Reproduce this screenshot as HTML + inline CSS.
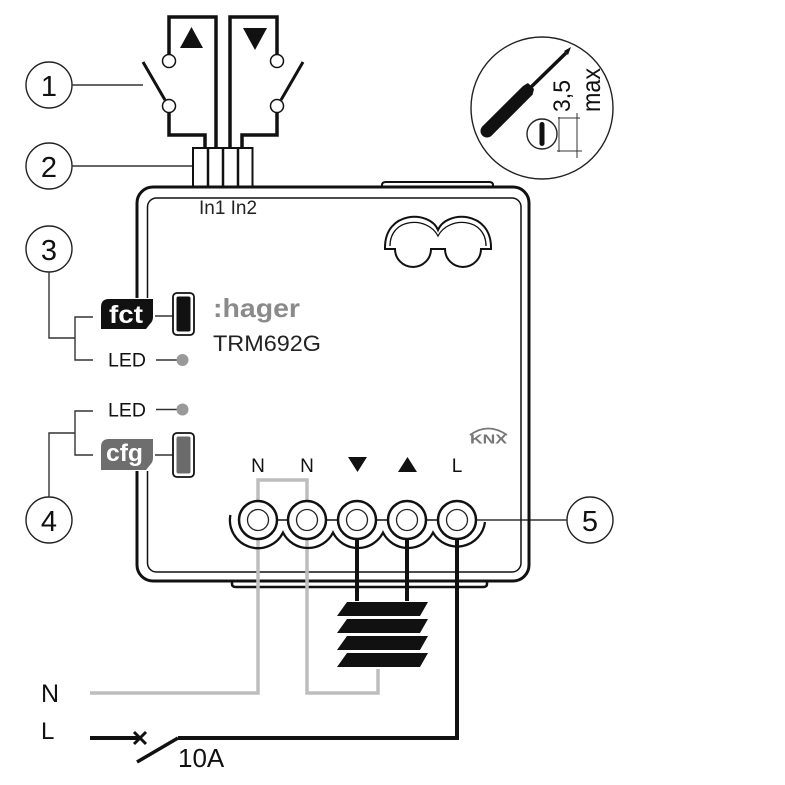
<!DOCTYPE html>
<html><head><meta charset="utf-8"><style>
html,body{margin:0;padding:0;background:#fff;}
svg{display:block;}
text{font-family:"Liberation Sans",Arial,sans-serif;}
</style></head><body>
<svg width="785" height="785" viewBox="0 0 785 785" xmlns="http://www.w3.org/2000/svg">
<rect width="785" height="785" fill="#fff"/>

<!-- number circles -->
<g fill="none" stroke="#222" stroke-width="1.4">
<circle cx="49" cy="85" r="23"/>
<circle cx="49" cy="166" r="23"/>
<circle cx="49" cy="249" r="23"/>
<circle cx="49" cy="520" r="23"/>
<circle cx="590" cy="520" r="23"/>
</g>
<g font-size="29" fill="#111" text-anchor="middle">
<text x="49" y="96">1</text>
<text x="49" y="177">2</text>
<text x="49" y="260">3</text>
<text x="49" y="531">4</text>
<text x="590" y="531">5</text>
</g>

<!-- leader lines -->
<g fill="none" stroke="#333" stroke-width="1.4">
<line x1="72" y1="85" x2="143" y2="85"/>
<line x1="72" y1="166" x2="200" y2="166"/>
<polyline points="49,272 49,338 75,338"/>
<polyline points="93,317 75,317 75,360 93,360"/>
<polyline points="49,497 49,433 75,433"/>
<polyline points="93,411 75,411 75,455 93,455"/>
<line x1="476" y1="520" x2="567" y2="520"/>
</g>

<!-- switches -->
<g fill="none" stroke="#111" stroke-width="3.5" stroke-linejoin="miter">
<polyline points="169,55 169,17 216,17 216,148"/>
<polyline points="169,112 169,135 205,135 205,148"/>
<polyline points="277,55 277,17 230,17 230,148"/>
<polyline points="277,112 277,135 242,135 242,148"/>
</g>
<g stroke="#111" stroke-width="3" stroke-linecap="butt">
<line x1="143" y1="62" x2="165" y2="100"/>
<line x1="303" y1="62" x2="281" y2="100"/>
</g>
<g fill="#fff" stroke="#111" stroke-width="1.5">
<circle cx="169" cy="61" r="6.5"/>
<circle cx="169" cy="106" r="6.5"/>
<circle cx="277" cy="61" r="6.5"/>
<circle cx="277" cy="106" r="6.5"/>
</g>
<polygon points="191.5,27 180,48 203,48" fill="#111"/>
<polygon points="243,28 267,28 255,50" fill="#111"/>

<!-- connector -->
<rect x="193" y="148" width="59.5" height="39" fill="#fff" stroke="#111" stroke-width="2"/>
<g stroke="#111" stroke-width="2.5">
<line x1="208" y1="148" x2="208" y2="187"/>
<line x1="223" y1="148" x2="223" y2="187"/>
<line x1="238" y1="148" x2="238" y2="187"/>
</g>

<!-- screwdriver circle -->
<circle cx="542" cy="108" r="71" fill="none" stroke="#222" stroke-width="1.4"/>
<circle cx="487" cy="131" r="6.5" fill="#111"/>
<polygon points="482.4,126.4 523,86 528,83 534,89 532.6,94.6 491.6,135.6" fill="#111"/>
<line x1="528" y1="90" x2="566" y2="53" stroke="#111" stroke-width="3.5"/>
<polygon points="564,51 571,47 568,55" fill="#111"/>
<circle cx="542" cy="134" r="15" fill="none" stroke="#222" stroke-width="1.4"/>
<rect x="539.5" y="122" width="5" height="24" rx="2.5" fill="#111"/>
<g stroke="#333" stroke-width="1">
<line x1="558" y1="118" x2="580" y2="118"/>
<line x1="557" y1="151" x2="582" y2="151"/>
<line x1="559" y1="117" x2="559" y2="152"/>
<line x1="577" y1="113" x2="577" y2="158"/>
</g>
<text transform="translate(570,112) rotate(-90)" font-size="24" fill="#111" textLength="32" lengthAdjust="spacingAndGlyphs">3,5</text>
<text transform="translate(600,112) rotate(-90)" font-size="26" fill="#111" textLength="44" lengthAdjust="spacingAndGlyphs">max</text>

<!-- box -->
<path d="M382,187 L382,185 Q382,182 386,182 L489,182 Q493,182 493,185 L493,187" fill="none" stroke="#111" stroke-width="2"/>
<path d="M137,298 L137,203 A16,16 0 0 1 153,187 L513,187 A16,16 0 0 1 529,203 L529,565 A16,16 0 0 1 513,581 L153,581 A16,16 0 0 1 137,565 L137,471" fill="none" stroke="#111" stroke-width="3"/>
<path d="M147.5,298 L147.5,207 A9,9 0 0 1 156.5,198 L512,198 A9,9 0 0 1 521,207 L521,563 A9,9 0 0 1 512,572 L156.5,572 A9,9 0 0 1 147.5,563 L147.5,471" fill="none" stroke="#111" stroke-width="1.5"/>
<path d="M232,581 L232,584 Q232,587 236,587 L483,587 Q487,587 487,584 L487,581" fill="none" stroke="#111" stroke-width="2.5"/>

<!-- knob shape -->
<path d="M385,249 C384,210 430,210 438,230 C446,210 492,210 491,249 L481,249 A18,18 0 0 1 445,249 L431,249 A18,18 0 0 1 395,249 Z" fill="none" stroke="#111" stroke-width="2"/>
<path d="M390,246 C390,217 428,216 438,236 C448,216 486,217 486,246" fill="none" stroke="#111" stroke-width="1.3"/>

<!-- In1 In2 -->
<text x="199" y="214" font-size="19" fill="#222" textLength="58" lengthAdjust="spacingAndGlyphs">In1 In2</text>

<!-- hager -->
<text x="213" y="317" font-size="26" font-weight="bold" fill="#8a8a8a" textLength="87" lengthAdjust="spacingAndGlyphs">:hager</text>
<text x="213" y="351" font-size="22" fill="#222" textLength="108" lengthAdjust="spacingAndGlyphs">TRM692G</text>

<!-- fct -->
<path d="M101,329 L101,307 Q101,299 109,299 L153,299 L153,317 Q153,321 150,324 L146,329 Z" fill="#111"/>
<text x="109" y="323" font-size="25" font-weight="bold" fill="#fff" textLength="34" lengthAdjust="spacingAndGlyphs">fct</text>
<line x1="155" y1="316" x2="182" y2="316" stroke="#333" stroke-width="1.4"/>
<rect x="173" y="293" width="21" height="42" rx="4" fill="#fff" stroke="#111" stroke-width="1.8"/>
<rect x="176.5" y="296.5" width="14" height="35" rx="2" fill="#111"/>

<!-- LEDs -->
<text x="108" y="366.5" font-size="19.5" fill="#111">LED</text>
<line x1="156" y1="360" x2="177" y2="360" stroke="#333" stroke-width="1.4"/>
<circle cx="182.5" cy="360" r="6" fill="#999"/>
<text x="108" y="416.5" font-size="19.5" fill="#111">LED</text>
<line x1="156" y1="409.5" x2="177" y2="409.5" stroke="#333" stroke-width="1.4"/>
<circle cx="182.5" cy="409.5" r="6" fill="#999"/>

<!-- cfg -->
<path d="M101,470 L101,447 Q101,439 109,439 L153,439 L153,458 Q153,462 150,465 L146,470 Z" fill="#6e6e6e"/>
<text x="106" y="461" font-size="24" font-weight="bold" fill="#fff" textLength="37" lengthAdjust="spacingAndGlyphs">cfg</text>
<line x1="155" y1="455" x2="182" y2="455" stroke="#333" stroke-width="1.4"/>
<rect x="173" y="433" width="21" height="44" rx="4" fill="#fff" stroke="#111" stroke-width="1.8"/>
<rect x="176.5" y="436.5" width="14" height="37" rx="2" fill="#6b6b6b"/>

<!-- KNX -->
<path d="M470,435 Q488,422 507,435" fill="none" stroke="#777" stroke-width="1.8"/>
<text x="470" y="443.5" font-size="12.5" font-weight="bold" fill="#777" textLength="37" lengthAdjust="spacingAndGlyphs">KNX</text>

<!-- terminal labels -->
<g font-size="19" fill="#111" text-anchor="middle">
<text x="258" y="472">N</text>
<text x="307" y="472">N</text>
<text x="457" y="472">L</text>
</g>
<polygon points="348,457 367,457 357.5,472" fill="#111"/>
<polygon points="407.5,457 398,472 417,472" fill="#111"/>

<!-- wires -->
<g fill="none" stroke="#bdbdbd" stroke-width="3.5">
<polyline points="258,500 258,480 307,480 307,500"/>
<polyline points="258,540 258,693 90,693"/>
<polyline points="307,540 307,693 378,693 378,669"/>
</g>
<g fill="none" stroke="#111" stroke-width="4">
<line x1="357" y1="540" x2="357" y2="601"/>
<line x1="407" y1="540" x2="407" y2="601"/>
<polyline points="457,540 457,738 178,738"/>
<line x1="90" y1="738" x2="140" y2="738"/>
</g>
<line x1="178" y1="738" x2="137" y2="762" stroke="#111" stroke-width="3.5"/>
<g stroke="#111" stroke-width="3">
<line x1="134" y1="732" x2="146" y2="744"/>
<line x1="146" y1="732" x2="134" y2="744"/>
</g>

<!-- terminals -->
<g fill="none" stroke="#111" stroke-width="1.5">
<line x1="277" y1="520" x2="289" y2="520"/>
<line x1="326" y1="520" x2="338" y2="520"/>
<line x1="376" y1="520" x2="388" y2="520"/>
<line x1="426" y1="520" x2="438" y2="520"/>
</g>
<path d="M230.4,515 A28,28 0 0 0 283,532.6 A28,28 0 0 0 333,532.6 A28,28 0 0 0 383,532.6 A28,28 0 0 0 433,532.6 A28,28 0 0 0 485,522" fill="none" stroke="#111" stroke-width="2.3"/>
<g fill="#fff" stroke="#111">
<circle cx="258" cy="520" r="19" stroke-width="2.5"/>
<circle cx="307" cy="520" r="19" stroke-width="2.5"/>
<circle cx="357" cy="520" r="19" stroke-width="2.5"/>
<circle cx="407" cy="520" r="19" stroke-width="2.5"/>
<circle cx="457" cy="520" r="19" stroke-width="2.5"/>
</g>
<g fill="none" stroke="#222" stroke-width="1.3">
<circle cx="258" cy="520" r="10.5"/>
<circle cx="307" cy="520" r="10.5"/>
<circle cx="357" cy="520" r="10.5"/>
<circle cx="407" cy="520" r="10.5"/>
<circle cx="457" cy="520" r="10.5"/>
</g>

<!-- blind -->
<g fill="#111">
<polygon points="347,602 428,602 420,616 337,616"/>
<polygon points="347,619 428,619 420,633 337,633"/>
<polygon points="347,636 428,636 420,650 337,650"/>
<polygon points="347,653 428,653 420,667 337,667"/>
</g>

<!-- bottom labels -->
<text x="41" y="702" font-size="25" fill="#111">N</text>
<text x="41" y="739" font-size="24" fill="#111">L</text>
<text x="178" y="767" font-size="26" fill="#111">10A</text>
</svg>
</body></html>
